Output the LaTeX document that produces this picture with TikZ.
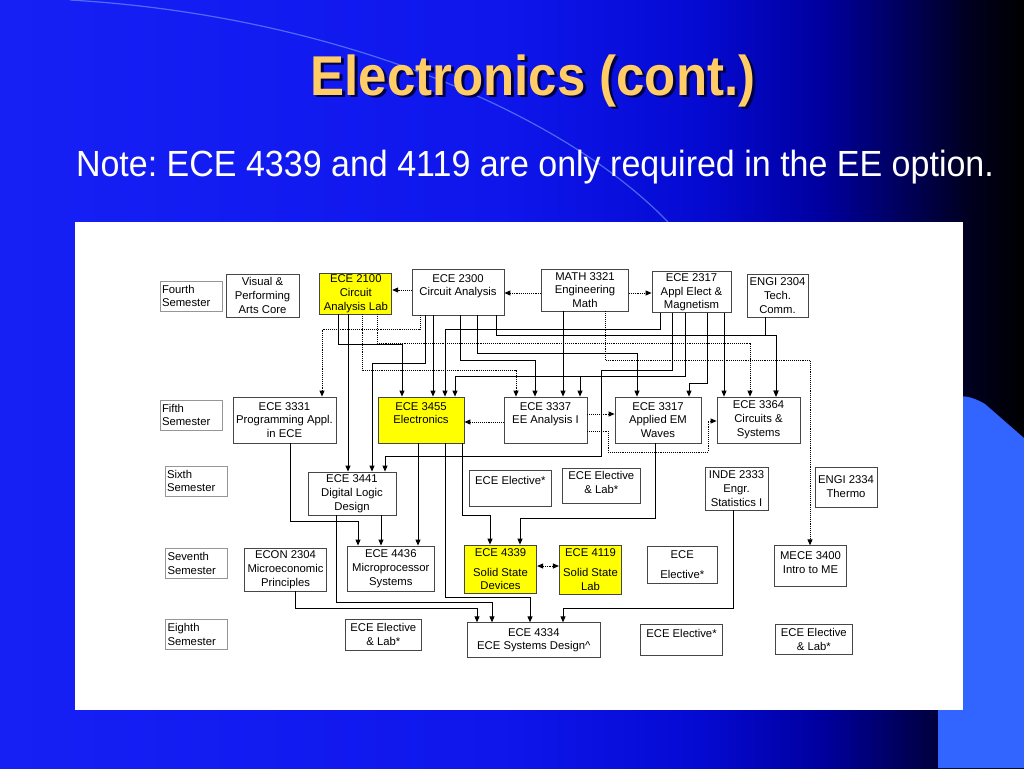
\documentclass[tikz,border=0pt]{standalone}
\usepackage{fontspec}
\usepackage{graphicx}
\setmainfont{Liberation Sans}
\frenchspacing
\usetikzlibrary{arrows.meta}
\definecolor{bgA}{RGB}{22,32,245}
\definecolor{bgB}{RGB}{14,22,236}
\definecolor{bgC}{RGB}{5,10,210}
\definecolor{bgD}{RGB}{0,0,160}
\definecolor{bgE}{RGB}{0,0,95}
\definecolor{bgF}{RGB}{0,0,30}
\definecolor{shapeblue}{RGB}{50,100,255}
\definecolor{arcblue}{RGB}{120,160,255}
\definecolor{titlecol}{RGB}{255,204,102}
\definecolor{shadowcol}{RGB}{0,0,70}
\definecolor{boxgray}{RGB}{70,70,70}
\definecolor{semgray}{RGB}{150,150,150}
\definecolor{hiyellow}{RGB}{255,255,0}
\pgfdeclarehorizontalshading{slidebg}{100bp}{color(0bp)=(bgA); color(25bp)=(bgA); color(49.4bp)=(bgB); color(59.2bp)=(bgC); color(65bp)=(bgD); color(68.9bp)=(bgE); color(72.4bp)=(bgF); color(75bp)=(black); color(100bp)=(black)}
\begin{document}
\begin{tikzpicture}[x=1pt,y=-1pt,
  bx/.style={draw=boxgray,line width=0.8pt,fill=white,inner sep=1pt,align=center,font=\fontsize{11.3}{13.8}\selectfont},
  ybx/.style={bx,fill=hiyellow},
  sem/.style={draw=semgray,line width=0.7pt,fill=white,inner sep=2pt,align=left,text width=58pt,minimum height=30pt,font=\fontsize{11.3}{13.8}\selectfont},
  conn/.style={-{Triangle[length=6pt,width=5pt]},line width=0.9pt,black},
  dconn/.style={conn,densely dotted},
  wh/.style args={#1x#2}{minimum width=#1pt,minimum height=#2pt}
]
\useasboundingbox (0,0) rectangle (1024,768);
% background
\shade[shading=slidebg] (0,0) rectangle (1024,768);
\fill[shapeblue] (938,768) -- (938,425) .. controls (942,398) and (958,388) .. (985,404) -- (1024,438) -- (1024,768) -- cycle;
\draw[arcblue,line width=1.2pt,opacity=0.6] (70,0) .. controls (330,15) and (560,110) .. (668,222);
% title (with its drop shadow)
\node[anchor=base,text=shadowcol,font=\fontsize{51}{60}\selectfont\bfseries] (titleshadow) at (536,97.5) {\scalebox{1}[1.1]{Electronics (cont.)}};
\node[anchor=base,text=titlecol,font=\fontsize{51}{60}\selectfont\bfseries] (title) at (533,95) {\scalebox{1}[1.1]{Electronics (cont.)}};
\node[anchor=base,text=white,font=\fontsize{34}{40}\selectfont] (note) at (535,176) {\scalebox{1}[1.07]{Note: ECE 4339 and 4119 are only required in the EE option.}};
% panel
\fill[white] (75,222) rectangle (963,710);
% semesters
\node[sem] (s4) at (191,296) {Fourth\\Semester};
\node[sem] (s5) at (191,415) {Fifth\\Semester};
\node[sem] (s6) at (196,481) {Sixth\\Semester};
\node[sem] (s7) at (196.5,563.5) {Seventh\\Semester};
\node[sem] (s8) at (196.5,634.5) {Eighth\\Semester};
% fourth row
\node[bx,wh=73x43] (vpa) at (262.5,295.5) {Visual \&\\Performing\\Arts Core};
\node[ybx,wh=72x41] (e2100) at (355.8,293.5) {ECE 2100\\Circuit\\Analysis Lab};
\node[bx,wh=92x46] (e2300) at (458,292) {ECE 2300\\Circuit Analysis\\\mbox{}};
\node[bx,wh=87x42] (m3321) at (585,290) {MATH 3321\\Engineering\\Math};
\node[bx,wh=79x41] (e2317) at (691.5,292.3) {ECE 2317\\Appl Elect \&\\Magnetism};
\node[bx,wh=61x43] (engi2304) at (777.5,295.5) {ENGI 2304\\Tech.\\Comm.};
% fifth row
\node[bx,wh=103x46] (e3331) at (284.5,420) {ECE 3331\\Programming Appl.\\in ECE};
\node[ybx,wh=86x46] (e3455) at (421,420) {ECE 3455\\Electronics\\\mbox{}};
\node[bx,wh=83x46] (e3337) at (545.5,420) {ECE 3337\\EE Analysis I\\\mbox{}};
\node[bx,wh=86x46] (e3317) at (658,420) {ECE 3317\\Applied EM\\Waves};
\node[bx,wh=83x46] (e3364) at (758.5,420) {ECE 3364\\Circuits \&\\Systems};
% sixth row
\node[bx,wh=88x43] (e3441) at (352,493.5) {ECE 3441\\Digital Logic\\Design};
\node[bx,wh=82.7x36.7] (elec6) at (510.3,488.3) {ECE Elective*\\[3pt]\mbox{}};
\node[bx,wh=78.7x35] (eleclab6) at (601.3,485.5) {ECE Elective\\\& Lab*\\[-8pt]\mbox{}};
\node[bx,wh=63x43] (inde) at (736.5,488.5) {INDE 2333\\Engr.\\Statistics I};
\node[bx,wh=62x40] (engi2334) at (846,487) {ENGI 2334\\Thermo};
% seventh row
\node[bx,wh=82.4x42.7] (econ) at (285.5,569.7) {ECON 2304\\Microeconomic\\Principles};
\node[bx,wh=87x45.7] (e4436) at (390.8,568.8) {ECE 4436\\Microprocessor\\Systems};
\node[ybx,wh=72.4x48.3] (e4339) at (500.5,569.2) {ECE 4339\\[6pt]Solid State\\Devices};
\node[ybx,wh=62.3x49.3] (e4119) at (590.5,569.7) {ECE 4119\\[6pt]Solid State\\Lab};
\node[bx,wh=70x36.7] (elec7) at (682.3,565) {ECE\\[6pt]Elective*};
\node[bx,wh=72.3x41] (mece) at (810.5,566.2) {MECE 3400\\Intro to ME\\[-6pt]\mbox{}};
% eighth row
\node[bx,wh=76.7x30.7] (eleclab8a) at (383.3,634.7) {ECE Elective\\\& Lab*};
\node[bx,wh=132.3x35] (e4334) at (533.8,640.2) {ECE 4334\\ECE Systems Design\^{}};
\node[bx,wh=81.7x31] (elec8) at (681.5,639.8) {ECE Elective*\\\mbox{}};
\node[bx,wh=77x30.7] (eleclab8b) at (813.8,639.3) {ECE Elective\\\& Lab*};
% solid connectors, upper
\draw[conn] (338,0 |- e2100.south) |- (402,344) -- (402,0 |- e3455.north);
\draw[conn] (348,0 |- e2100.south) -- (348,0 |- e3441.north);
\draw[conn] (425,0 |- e2300.south) |- (372,363) -- (372,0 |- e3441.north);
\draw[conn] (433,0 |- e2300.south) -- (433,0 |- e3455.north);
\draw[conn] (660,0 |- e2317.south) |- (445,329) -- (445,0 |- e3455.north);
\draw[conn] (685,0 |- e2317.south) |- (455,376) -- (455,0 |- e3455.north);
\draw[conn] (685,0 |- e2317.south) |- (580,376) -- (580,0 |- e3337.north);
\draw[conn] (460,0 |- e2300.south) |- (535,360) -- (535,0 |- e3337.north);
\draw[conn] (477,0 |- e2300.south) |- (637,353) -- (637,0 |- e3317.north);
\draw[conn] (496,0 |- e2300.south) |- (776,335) -- (776,0 |- e3364.north);
\draw[conn] (765,0 |- engi2304.south) |- (776,335) -- (776,0 |- e3364.north);
\draw[conn] (563,0 |- m3321.south) -- (563,0 |- e3337.north);
\draw[conn] (672,0 |- e2317.south) |- (601,370) |- (385,456) -- (385,0 |- e3441.north);
\draw[conn] (707,0 |- e2317.south) |- (689,383) -- (689,0 |- e3317.north);
\draw[conn] (724,0 |- e2317.south) -- (724,0 |- e3364.north);
% dotted connectors
\draw[dconn] (e2300.west |- 0,290) -- (e2100.east |- 0,290);
\draw[dconn] (m3321.west |- 0,293) -- (e2300.east |- 0,293);
\draw[dconn] (m3321.east |- 0,293) -- (e2317.west |- 0,293);
\draw[dconn] (420,0 |- e2300.south) |- (322,329) -- (322,0 |- e3331.north);
\draw[dconn] (362,0 |- e2100.south) |- (516,370) -- (516,0 |- e3337.north);
\draw[dconn] (377,0 |- e2100.south) |- (750,343) -- (750,0 |- e3364.north);
\draw[dconn] (605,0 |- m3321.south) |- (810,360) -- (810,0 |- mece.north);
\draw[dconn] (e3337.west |- 0,422) -- (e3455.east |- 0,422);
\draw[dconn] (e3337.east |- 0,414) -- (e3317.west |- 0,414);
\draw[dconn] (e3337.east |- 0,431) -| (608,452) -| (708,421) -- (e3364.west |- 0,421);
\draw[dconn,{Triangle[length=6pt,width=5pt]}-{Triangle[length=6pt,width=5pt]}] (e4339.east |- 0,566) -- (e4119.west |- 0,566);
% solid connectors, lower
\draw[conn] (290,0 |- e3331.south) |- (358,521) -- (358,0 |- e4436.north);
\draw[conn] (381,0 |- e3441.south) -- (381,0 |- e4436.north);
\draw[conn] (418,0 |- e3455.south) -- (418,0 |- e4436.north);
\draw[conn] (462,0 |- e3455.south) |- (490,515) -- (490,0 |- e4339.north);
\draw[conn] (445,0 |- e3455.south) |- (530,597) -- (530,0 |- e4334.north);
\draw[conn] (336,0 |- e3441.south) |- (492,602) -- (492,0 |- e4334.north);
\draw[conn] (295,0 |- econ.south) |- (477,608) -- (477,0 |- e4334.north);
\draw[conn] (655,0 |- e3317.south) |- (520,518) -- (520,0 |- e4339.north);
\draw[conn] (733,0 |- inde.south) |- (563,608) -- (563,0 |- e4334.north);
\end{tikzpicture}
\end{document}
